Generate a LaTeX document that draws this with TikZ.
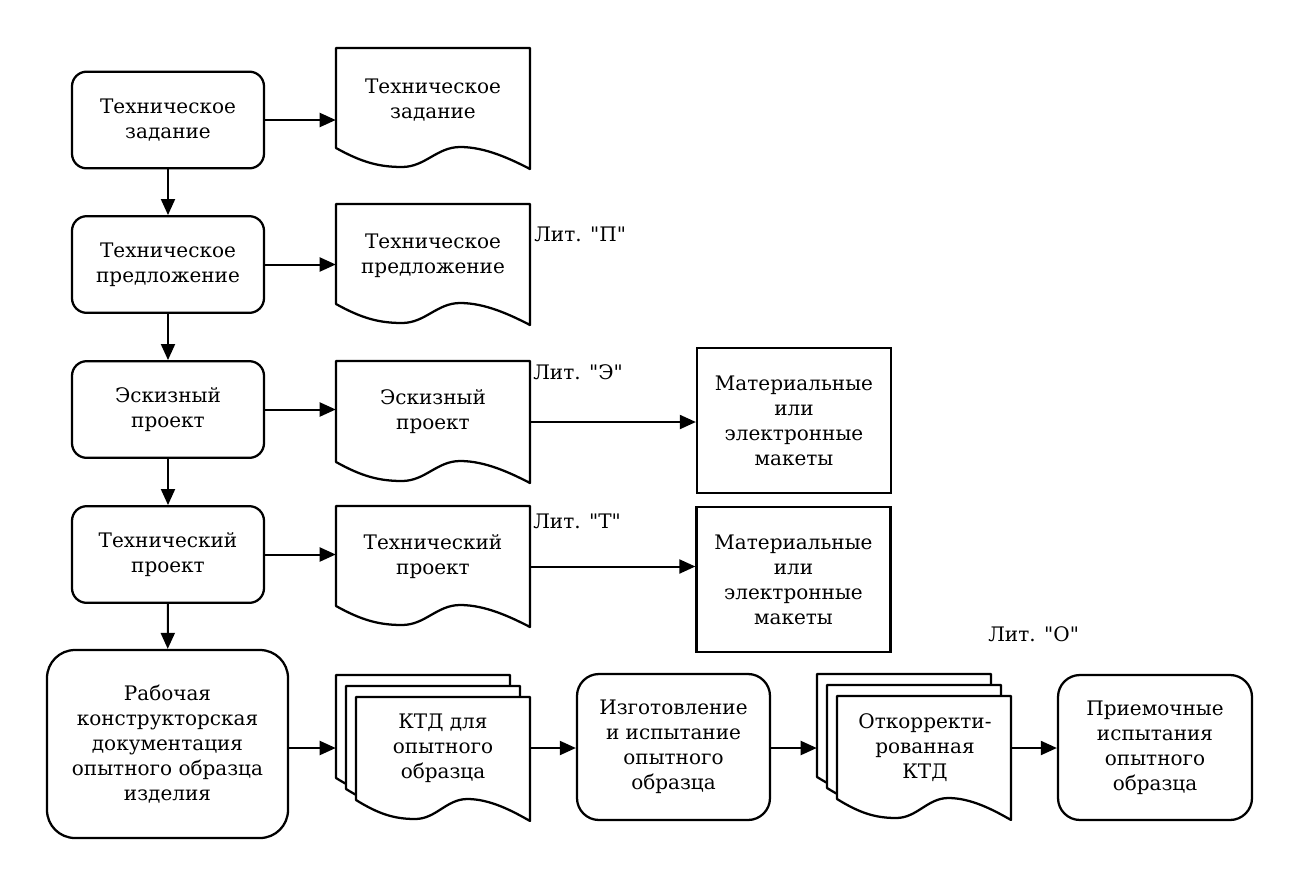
\documentclass[tikz,border=0pt]{standalone}
\usepackage{fontspec}
\setmainfont{DejaVu Serif}[Ligatures=TeXOff]
\usetikzlibrary{arrows.meta}
\newcommand{\docshape}[4]{%
  \draw[docline] (#1,{#2+#4-21}) -- (#1,#2) -- ({#1+#3},#2) -- ({#1+#3},{#2+#4})
    .. controls ({#1+0.9*#3},{#2+#4-10}) and ({#1+0.77*#3},{#2+#4-22}) .. ({#1+0.64*#3},{#2+#4-22})
    .. controls ({#1+0.52*#3},{#2+#4-22}) and ({#1+0.46*#3},{#2+#4-2}) .. ({#1+0.34*#3},{#2+#4-2})
    .. controls ({#1+0.22*#3},{#2+#4-2}) and ({#1+0.13*#3},{#2+#4-7}) .. (#1,{#2+#4-21}) -- cycle;}
\begin{document}
\begin{tikzpicture}[x=0.75pt,y=-0.75pt,
  every node/.style={font=\fontsize{15}{18.75}\selectfont, align=center, inner sep=0pt},
  proc/.style={draw, line width=1.7pt, rounded corners=11pt, minimum width=144pt, minimum height=72.5pt},
  matbox/.style={draw, line width=1.7pt, minimum width=145.5pt, minimum height=108.75pt},
  docline/.style={line width=1.7pt, fill=white, line join=round},
  docbox/.style={draw=none, minimum width=145.5pt, minimum height=90.75pt},
  stackbox/.style={draw=none, minimum width=130.5pt, minimum height=93pt},
  arr/.style={line width=1.5pt, -{Triangle[length=12pt,width=10.5pt]}},
  lit/.style={anchor=west}]
\useasboundingbox (0,0) rectangle (1299,893);

% left column
\node[proc] (b1) at (168,120) {Техническое\\задание};
\node[proc] (b2) at (168,264.5) {Техническое\\предложение};
\node[proc] (b3) at (168,409.5) {Эскизный\\проект};
\node[proc] (b4) at (168,554.5) {Технический\\проект};
\node[proc, rounded corners=21pt, minimum width=180.75pt, minimum height=141pt] (b5) at (167.5,744)
  {Рабочая\\конструкторская\\документация\\опытного образца\\изделия};

% documents
\docshape{336}{48}{194}{121}
\node[docbox] (d1) at (433,108.5) {};
\node (d1t) at (433,100) {Техническое\\задание};
\docshape{336}{204}{194}{121}
\node[docbox] (d2) at (433,264.5) {};
\node (d2t) at (433,256) {Техническое\\предложение};
\docshape{336}{361}{194}{122}
\node[docbox] (d3) at (433,422) {};
\node (d3t) at (433,412) {Эскизный\\проект};
\docshape{336}{506}{194}{121}
\node[docbox] (d4) at (433,566.5) {};
\node (d4t) at (433,557) {Технический\\проект};

% letters
\node[lit] (lp) at (534,234) {Лит. "П"};
\node[lit] (le) at (533,372) {Лит. "Э"};
\node[lit] (lt) at (533,521) {Лит. "Т"};
\node[lit] (lo) at (988,634) {Лит. "О"};

% models
\node[matbox] (m1) at (794,420.5) {Материальные\\или\\электронные\\макеты};
\node[matbox] (m2) at (793.5,579.5) {Материальные\\или\\электронные\\макеты};

% stack 1
\docshape{336}{675}{174}{124}
\docshape{346}{686}{174}{124}
\docshape{356}{697}{174}{124}
\node[stackbox] (s1) at (423,737) {};
\node[stackbox] (s1f) at (443,759) {};
\node (s1t) at (443,748) {КТД для\\опытного\\образца};

\node[proc, rounded corners=16.5pt, minimum width=144.75pt, minimum height=109.5pt] (izg) at (673.5,747)
  {Изготовление\\и испытание\\опытного\\образца};

% stack 2
\docshape{817}{674}{174}{124}
\docshape{827}{685}{174}{124}
\docshape{837}{696}{174}{124}
\node[stackbox] (s2) at (904,736) {};
\node[stackbox] (s2f) at (924,758) {};
\node (s2t) at (925,748) {Откорректи-\\рованная\\КТД};

\node[proc, rounded corners=16.5pt, minimum width=145.5pt, minimum height=108.75pt] (pr) at (1155,747.5)
  {Приемочные\\испытания\\опытного\\образца};

% connectors
\draw[arr] (b1) -- (b2);
\draw[arr] (b2) -- (b3);
\draw[arr] (b3) -- (b4);
\draw[arr] (b4) -- (b5);
\draw[arr] (b1.east) -- (d1.west |- b1.east);
\draw[arr] (b2.east) -- (d2.west |- b2.east);
\draw[arr] (b3.east) -- (d3.west |- b3.east);
\draw[arr] (b4.east) -- (d4.west |- b4.east);
\draw[arr] (d3.east) -- (m1.west |- d3.east);
\draw[arr] (d4.east) -- (m2.west |- d4.east);
\draw[arr] (b5.east |- s1t) -- (s1.west |- s1t);
\draw[arr] (s1f.east |- s1t) -- (izg.west |- s1t);
\draw[arr] (izg.east |- s1t) -- (s2.west |- s1t);
\draw[arr] (s2f.east |- s1t) -- (pr.west |- s1t);
\end{tikzpicture}
\end{document}
